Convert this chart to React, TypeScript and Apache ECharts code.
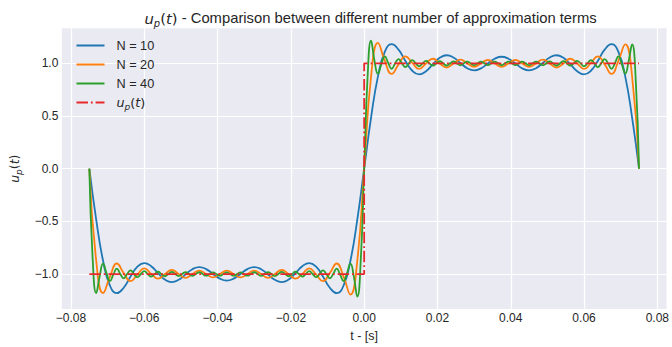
import React, { useEffect, useRef } from "react";
import * as echarts from "echarts";

// sample grid (t in seconds)
const T_START = -0.075;
const STEP_N10 = 0.001875;
const STEP_N20 = 0.001875;
const STEP_N40 = 0.0009375;

const yN10 = [
  0, -0.483, -0.874, -1.110, -1.182, -1.130, -1.023, -0.930, -0.896, -0.926,
  -0.992, -1.053, -1.077, -1.055, -1.004, -0.954, -0.934, -0.953, -0.999, -1.044,
  -1.063, -1.044, -0.999, -0.953, -0.934, -0.954, -1.004, -1.055, -1.077, -1.053,
  -0.992, -0.926, -0.896, -0.930, -1.023, -1.130, -1.182, -1.110, -0.874, -0.483,
  0, 0.483, 0.874, 1.110, 1.182, 1.130, 1.023, 0.930, 0.896, 0.926,
  0.992, 1.053, 1.077, 1.055, 1.004, 0.954, 0.934, 0.953, 0.999, 1.044,
  1.063, 1.044, 0.999, 0.953, 0.934, 0.954, 1.004, 1.055, 1.077, 1.053,
  0.992, 0.926, 0.896, 0.930, 1.023, 1.130, 1.182, 1.110, 0.874, 0.483,
  0,
];

const yN20 = [
  0, -0.873, -1.180, -1.024, -0.900, -0.991, -1.067, -1.004, -0.947, -0.999,
  -1.044, -1.000, -0.961, -1.000, -1.036, -1.000, -0.967, -1.000, -1.032, -1.000,
  -0.968, -1.000, -1.032, -1.000, -0.967, -1.000, -1.036, -1.000, -0.961, -1.000,
  -1.044, -0.999, -0.947, -1.004, -1.067, -0.991, -0.900, -1.024, -1.195, -0.873,
  0, 0.873, 1.195, 1.024, 0.900, 0.991, 1.067, 1.004, 0.947, 0.999,
  1.044, 1.000, 0.961, 1.000, 1.036, 1.000, 0.967, 1.000, 1.032, 1.000,
  0.968, 1.000, 1.032, 1.000, 0.967, 1.000, 1.036, 1.000, 0.961, 1.000,
  1.044, 0.999, 0.947, 1.004, 1.067, 0.991, 0.900, 1.024, 1.180, 0.873,
  0,
];

const yN40 = [
  0, -0.873, -1.180, -1.025, -0.902, -0.991, -1.067, -1.004, -0.949, -0.999,
  -1.041, -1, -0.965, -1, -1.030, -1, -0.973, -1, -1.024, -1,
  -0.978, -1, -1.021, -1, -0.980, -1, -1.019, -1, -0.982, -1,
  -1.017, -1, -0.983, -1, -1.016, -1, -0.984, -1, -1.016, -1,
  -0.984, -1, -1.016, -1, -0.984, -1, -1.016, -1, -0.983, -1,
  -1.017, -1, -0.982, -1, -1.019, -1, -0.980, -1, -1.021, -1,
  -0.978, -1, -1.024, -1, -0.973, -1, -1.030, -1, -0.965, -1,
  -1.041, -0.999, -0.949, -1.004, -1.067, -0.991, -0.902, -1.025, -1.215, -0.873,
  0, 0.873, 1.215, 1.025, 0.902, 0.991, 1.067, 1.004, 0.949, 0.999,
  1.041, 1, 0.965, 1, 1.030, 1, 0.973, 1, 1.024, 1,
  0.978, 1, 1.021, 1, 0.980, 1, 1.019, 1, 0.982, 1,
  1.017, 1, 0.983, 1, 1.016, 1, 0.984, 1, 1.016, 1,
  0.984, 1, 1.016, 1, 0.984, 1, 1.016, 1, 0.983, 1,
  1.017, 1, 0.982, 1, 1.019, 1, 0.980, 1, 1.021, 1,
  0.978, 1, 1.024, 1, 0.973, 1, 1.030, 1, 0.965, 1,
  1.041, 0.999, 0.949, 1.004, 1.067, 0.991, 0.902, 1.025, 1.180, 0.873,
  0,
];

const upT = [-0.075, 0, 0, 0.075];
const upY = [-1, -1, 1, 1];

const xTicks = [-0.08, -0.06, -0.04, -0.02, 0, 0.02, 0.04, 0.06, 0.08];
const yTicks = [-1, -0.5, 0, 0.5, 1];

const X_MIN = -0.0825;
const X_MAX = 0.0825;
const Y_MIN = -1.333;
const Y_MAX = 1.333;

const TEXT = "#262626";
const BG = "#EAEAF2";
const SANS = "'Liberation Sans', Arial, sans-serif";
const MATH = "'DejaVu Sans', sans-serif";

const UP_RICH = "{mi|u}{sub|p}{mr|(}{mi|t}{mr|)}";

const minus = (s: string) => s.replace("-", "\u2212");

function rich(size: number) {
  const lh = size + 6;
  return {
    mi: { fontFamily: MATH, fontStyle: "italic", fontSize: size, color: TEXT, lineHeight: lh },
    mr: { fontFamily: MATH, fontSize: size, color: TEXT, lineHeight: lh },
    sub: {
      fontFamily: MATH,
      fontStyle: "italic",
      fontSize: Math.round(size * 0.7),
      color: TEXT,
      lineHeight: Math.round(size * 0.7),
      verticalAlign: "bottom",
    },
    n: { fontFamily: SANS, fontSize: size, color: TEXT, lineHeight: lh },
  };
}

const toPairs = (ys: number[], step: number) => ys.map((y, i) => [T_START + i * step, y]);

export default function App() {
  const ref = useRef<HTMLDivElement>(null);
  useEffect(() => {
    if (!ref.current) return;
    const chart = echarts.init(ref.current, undefined, { renderer: "svg" });
    const lineW = 1.8;
    chart.setOption({
      animation: false,
      backgroundColor: "#ffffff",
      title: {
        text: UP_RICH + "{n| - Comparison between different number of approximation terms}",
        left: 365.6,
        top: 3,
        textAlign: "center",
        textStyle: { fontWeight: "normal", rich: rich(14.8) },
      },
      grid: {
        left: 60.8,
        right: 1.6,
        top: 28.3,
        bottom: 33.7,
        show: true,
        backgroundColor: BG,
        borderWidth: 0,
      },
      legend: {
        orient: "vertical",
        left: 70.5,
        top: 34,
        itemWidth: 28,
        itemHeight: 2,
        itemGap: 6,
        itemStyle: { opacity: 0 },
        data: ["N = 10", "N = 20", "N = 40", "u_p(t)"],
        formatter: (name: string) => (name === "u_p(t)" ? UP_RICH : "{n|" + name + "}"),
        textStyle: { color: TEXT, padding: [0, 0, 0, 7], rich: rich(12.7) },
      },
      xAxis: {
        type: "value",
        min: X_MIN,
        max: X_MAX,
        name: "t - [s]",
        nameLocation: "middle",
        nameGap: 16,
        nameTextStyle: { color: TEXT, fontFamily: SANS, fontSize: 12.5 },
        axisLine: { show: false },
        axisTick: { show: false },
        splitLine: { show: false },
        axisLabel: {
          customValues: xTicks,
          color: TEXT,
          fontFamily: SANS,
          fontSize: 12,
          margin: 3,
          formatter: (v: number) => minus(v.toFixed(2)),
        },
      },
      yAxis: {
        type: "value",
        min: Y_MIN,
        max: Y_MAX,
        name: UP_RICH,
        nameLocation: "middle",
        nameRotate: 90,
        nameGap: 29,
        nameTextStyle: { rich: rich(12.5) },
        axisLine: { show: false },
        axisTick: { show: false },
        splitLine: { show: false },
        axisLabel: {
          customValues: yTicks,
          color: TEXT,
          fontFamily: SANS,
          fontSize: 12,
          margin: 3.5,
          formatter: (v: number) => minus(v.toFixed(1)),
        },
      },
      series: [
        {
          type: "line",
          name: "grid",
          data: [[0, 0]],
          showSymbol: false,
          symbol: "none",
          silent: true,
          z: 1,
          lineStyle: { width: 0, opacity: 0 },
          markLine: {
            z: 1,
            silent: true,
            symbol: ["none", "none"],
            label: { show: false },
            emphasis: { disabled: true },
            animation: false,
            lineStyle: { color: "#ffffff", width: 1.2, type: "solid", opacity: 1 },
            data: [
              ...xTicks.map((v) => ({ xAxis: v })),
              ...yTicks.map((v) => ({ yAxis: v })),
            ],
          },
        },
        {
          type: "line",
          name: "N = 10",
          data: toPairs(yN10, STEP_N10),
          smooth: true,
          symbol: "none",
          z: 3,
          lineStyle: { color: "#1f77b4", width: lineW },
          itemStyle: { color: "#1f77b4" },
        },
        {
          type: "line",
          name: "N = 20",
          data: toPairs(yN20, STEP_N20),
          smooth: true,
          symbol: "none",
          z: 3,
          lineStyle: { color: "#ff7f0e", width: lineW },
          itemStyle: { color: "#ff7f0e" },
        },
        {
          type: "line",
          name: "N = 40",
          data: toPairs(yN40, STEP_N40),
          smooth: true,
          symbol: "none",
          z: 3,
          lineStyle: { color: "#2ca02c", width: lineW },
          itemStyle: { color: "#2ca02c" },
        },
        {
          type: "line",
          name: "u_p(t)",
          data: upT.map((t, i) => [t, upY[i]]),
          symbol: "none",
          z: 4,
          lineStyle: { color: "#e8282b", width: lineW, type: [11.5, 2.9, 1.8, 2.9] },
          itemStyle: { color: "#e8282b" },
        },
      ],
    });
    return () => chart.dispose();
  }, []);
  return (
    <div
      ref={ref}
      style={{ position: "fixed", left: 0, top: 0, width: 672, height: 347 }}
    />
  );
}
